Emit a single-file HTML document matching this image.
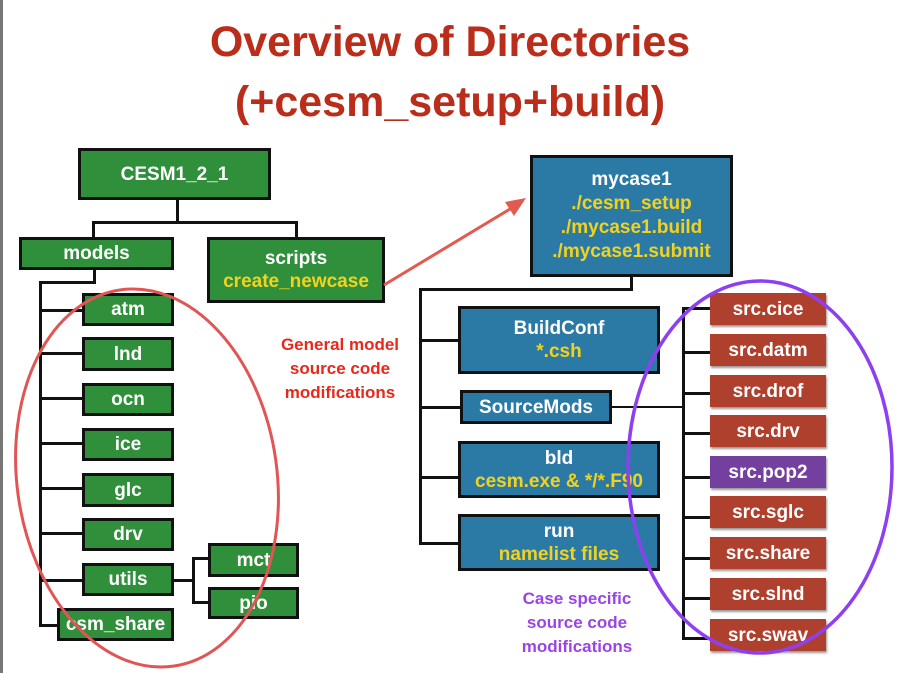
<!DOCTYPE html>
<html><head><style>
body{margin:0;width:900px;height:673px;background:#fff;position:relative;overflow:hidden;font-family:"Liberation Sans",sans-serif;}
.t{position:absolute;left:0;width:900px;text-align:center;color:#bb2d1b;font-size:43px;font-weight:bold;}
.b{position:absolute;box-sizing:border-box;border:3px solid #111;color:#fff;font-weight:bold;font-size:19px;text-align:center;display:flex;flex-direction:column;justify-content:center;line-height:23px;}
.g{background:#2f8f3b;}
.u{background:#2b7aa6;}
.r{background:#b0402e;border:none;box-shadow:1px 2px 2px #999;}
.p{background:#7440a0;border:none;box-shadow:1px 2px 2px #999;}
.y{color:#f3d21d;}
.l{position:absolute;background:#111;}
.n{position:absolute;font-weight:bold;font-size:17px;text-align:center;line-height:24px;}
</style></head><body>
<div style="position:absolute;left:0;top:0;width:3px;height:673px;background:#777"></div>
<div class="t" style="top:18px">Overview of Directories</div>
<div class="t" style="top:78px">(+cesm_setup+build)</div>

<div class="l" style="left:176px;top:199px;width:3px;height:24px"></div>
<div class="l" style="left:92px;top:221px;width:206px;height:3px"></div>
<div class="l" style="left:92px;top:221px;width:3px;height:17px"></div>
<div class="l" style="left:295px;top:221px;width:3px;height:17px"></div>
<div class="l" style="left:93px;top:269px;width:3px;height:14px"></div>
<div class="l" style="left:39px;top:281px;width:57px;height:3px"></div>
<div class="l" style="left:39px;top:281px;width:3px;height:345px"></div>
<div class="l" style="left:39px;top:309px;width:44px;height:3px"></div>
<div class="l" style="left:39px;top:352px;width:44px;height:3px"></div>
<div class="l" style="left:39px;top:397px;width:44px;height:3px"></div>
<div class="l" style="left:39px;top:442px;width:44px;height:3px"></div>
<div class="l" style="left:39px;top:487px;width:44px;height:3px"></div>
<div class="l" style="left:39px;top:532px;width:44px;height:3px"></div>
<div class="l" style="left:39px;top:579px;width:44px;height:3px"></div>
<div class="l" style="left:39px;top:624px;width:19px;height:3px"></div>
<div class="l" style="left:172px;top:579px;width:22px;height:3px"></div>
<div class="l" style="left:192px;top:557px;width:3px;height:46px"></div>
<div class="l" style="left:192px;top:557px;width:17px;height:3px"></div>
<div class="l" style="left:192px;top:601px;width:17px;height:3px"></div>

<div class="b g" style="left:78px;top:148px;width:193px;height:52px">CESM1_2_1</div>
<div class="b g" style="left:19px;top:237px;width:155px;height:33px">models</div>
<div class="b g" style="left:207px;top:237px;width:178px;height:66px"><span>scripts</span><span class="y">create_newcase</span></div>
<div class="b g" style="left:82px;top:293px;width:92px;height:33px">atm</div>
<div class="b g" style="left:82px;top:337px;width:92px;height:34px">lnd</div>
<div class="b g" style="left:82px;top:383px;width:92px;height:33px">ocn</div>
<div class="b g" style="left:82px;top:428px;width:92px;height:33px">ice</div>
<div class="b g" style="left:82px;top:473px;width:92px;height:34px">glc</div>
<div class="b g" style="left:82px;top:518px;width:92px;height:33px">drv</div>
<div class="b g" style="left:82px;top:563px;width:92px;height:33px">utils</div>
<div class="b g" style="left:57px;top:608px;width:117px;height:33px">csm_share</div>
<div class="b g" style="left:208px;top:543px;width:91px;height:34px">mct</div>
<div class="b g" style="left:208px;top:587px;width:91px;height:32px">pio</div>

<div class="n" style="left:262px;top:333px;width:156px;color:#e8281a">General model<br>source code<br>modifications</div>

<div class="l" style="left:630px;top:276px;width:3px;height:14px"></div>
<div class="l" style="left:419px;top:288px;width:214px;height:3px"></div>
<div class="l" style="left:419px;top:288px;width:3px;height:256px"></div>
<div class="l" style="left:419px;top:339px;width:40px;height:3px"></div>
<div class="l" style="left:419px;top:406px;width:42px;height:3px"></div>
<div class="l" style="left:419px;top:476px;width:40px;height:3px"></div>
<div class="l" style="left:419px;top:542px;width:40px;height:3px"></div>
<div class="l" style="left:610px;top:406px;width:74px;height:2px"></div>
<div class="l" style="left:682px;top:307px;width:3px;height:332px"></div>
<div class="l" style="left:682px;top:307px;width:28px;height:3px"></div>
<div class="l" style="left:682px;top:351px;width:28px;height:3px"></div>
<div class="l" style="left:682px;top:392px;width:28px;height:3px"></div>
<div class="l" style="left:682px;top:432px;width:28px;height:3px"></div>
<div class="l" style="left:682px;top:476px;width:28px;height:3px"></div>
<div class="l" style="left:682px;top:516px;width:28px;height:3px"></div>
<div class="l" style="left:682px;top:557px;width:28px;height:3px"></div>
<div class="l" style="left:682px;top:597px;width:28px;height:3px"></div>
<div class="l" style="left:682px;top:637px;width:28px;height:3px"></div>

<div class="b u" style="left:530px;top:155px;width:203px;height:122px;line-height:24px"><span>mycase1</span><span class="y">./cesm_setup<br>./mycase1.build<br>./mycase1.submit</span></div>
<div class="b u" style="left:458px;top:306px;width:202px;height:68px"><span>BuildConf</span><span class="y">*.csh</span></div>
<div class="b u" style="left:460px;top:390px;width:152px;height:34px">SourceMods</div>
<div class="b u" style="left:458px;top:441px;width:202px;height:57px"><span>bld</span><span class="y">cesm.exe &amp; */*.F90</span></div>
<div class="b u" style="left:458px;top:514px;width:202px;height:57px"><span>run</span><span class="y">namelist files</span></div>

<div class="b r" style="left:710px;top:293px;width:116px;height:32px">src.cice</div>
<div class="b r" style="left:710px;top:334px;width:116px;height:32px">src.datm</div>
<div class="b r" style="left:710px;top:375px;width:116px;height:32px">src.drof</div>
<div class="b r" style="left:710px;top:415px;width:116px;height:32px">src.drv</div>
<div class="b p" style="left:710px;top:456px;width:116px;height:32px">src.pop2</div>
<div class="b r" style="left:710px;top:496px;width:116px;height:32px">src.sglc</div>
<div class="b r" style="left:710px;top:537px;width:116px;height:32px">src.share</div>
<div class="b r" style="left:710px;top:578px;width:116px;height:32px">src.slnd</div>
<div class="b r" style="left:710px;top:619px;width:116px;height:32px">src.swav</div>

<div class="n" style="left:497px;top:587px;width:160px;color:#9a44e6">Case specific<br>source code<br>modifications</div>

<svg style="position:absolute;left:0;top:0" width="900" height="673">
<ellipse cx="147" cy="478" rx="130" ry="190" transform="rotate(-8 147 478)" fill="none" stroke="#e25555" stroke-width="3"/>
<ellipse cx="760" cy="467" rx="132" ry="186" fill="none" stroke="#8e3ff0" stroke-width="3.5"/>
<line x1="384" y1="285" x2="515" y2="206" stroke="#e25a50" stroke-width="3"/>
<polygon points="526,198 505,202 514,216" fill="#e25a50"/>
</svg>
</body></html>
